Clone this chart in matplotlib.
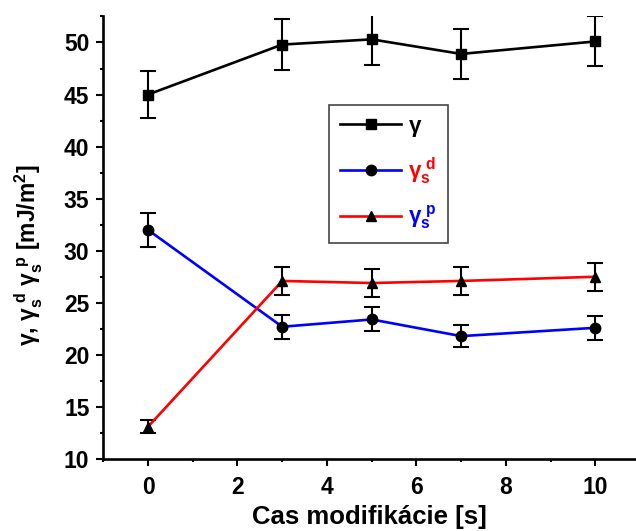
import matplotlib
matplotlib.use('Agg')
import matplotlib.pyplot as plt
from matplotlib.ticker import MultipleLocator

plt.rcParams['font.family'] = ['Liberation Sans', 'DejaVu Sans']
plt.rcParams['font.weight'] = 'bold'
plt.rcParams['mathtext.fontset'] = 'custom'
plt.rcParams['mathtext.rm'] = 'Liberation Sans:bold'
plt.rcParams['mathtext.it'] = 'Liberation Sans:bold'
plt.rcParams['mathtext.bf'] = 'Liberation Sans:bold'

# cas modifikacie [s]
cas = [0, 3, 5, 7, 10]

# povrchova energia a jej zlozky [mJ/m2]
gama = [45.0, 49.8, 50.3, 48.9, 50.1]
gama_err = [2.25, 2.45, 2.5, 2.4, 2.4]
gama_d = [32.0, 22.7, 23.4, 21.8, 22.6]
gama_d_err = [1.6, 1.15, 1.15, 1.05, 1.15]
gama_p = [13.1, 27.1, 26.9, 27.1, 27.5]
gama_p_err = [0.65, 1.35, 1.3, 1.35, 1.35]

fig = plt.figure(figsize=(6.36, 5.31), dpi=100)
ax = fig.add_axes([0.1624, 0.1356, 0.837, 0.8344])

lw = 1.9
spolocne = dict(capsize=6, elinewidth=1.5, capthick=1.5, ecolor='k',
                lw=lw, markersize=7.5, mfc='k', mec='k')
c1 = ax.errorbar(cas, gama, yerr=gama_err, color='k', marker='s', **spolocne)
c2 = ax.errorbar(cas, gama_d, yerr=gama_d_err, color='#0000ff', marker='o',
                 **spolocne)
c3 = ax.errorbar(cas, gama_p, yerr=gama_p_err, color='#ff0000', marker='^',
                 **spolocne)

ax.set_xlim(-1, 10.9)
ax.set_ylim(10, 52.55)
ax.xaxis.set_major_locator(MultipleLocator(2))
ax.xaxis.set_minor_locator(MultipleLocator(1))
ax.yaxis.set_major_locator(MultipleLocator(5))
ax.yaxis.set_minor_locator(MultipleLocator(2.5))

for s in ['top', 'right']:
    ax.spines[s].set_visible(False)
for s in ['left', 'bottom']:
    ax.spines[s].set_linewidth(1.9)

ax.tick_params(which='major', direction='out', length=5, width=1.5,
               labelsize=16.5)
ax.tick_params(axis='x', which='major', pad=7)
ax.tick_params(axis='y', which='major', pad=5)
ax.tick_params(which='minor', direction='out', length=2.5, width=1.5)
for lab in ax.get_xticklabels() + ax.get_yticklabels():
    lab.set_fontweight('bold')

ax.set_xlabel('Cas modifikácie [s]', fontsize=18.5, fontweight='bold')
ax.set_ylabel(r'$\gamma$, $\gamma_s^{\ d}$ $\gamma_s^{\ p}$ [mJ/m$^2$]',
              fontsize=16.5, fontweight='bold')
ax.yaxis.set_label_coords(-0.11, 0.46)
ax.xaxis.set_label_coords(0.5, -0.103)

leg = ax.legend([c1[0], c2[0], c3[0]],
                [r'$\gamma$', r'$\gamma_s^{\ d}$', r'$\gamma_s^{\ p}$'],
                loc='upper left', bbox_to_anchor=(0.424, 0.799),
                borderaxespad=0, fontsize=16, handlelength=2.75,
                handletextpad=0.3, labelspacing=0.75, borderpad=0.5,
                fancybox=False, framealpha=1, edgecolor='#444444')
leg.get_frame().set_linewidth(1.2)
farby = ['k', '#ff0000', '#0000ff']
for t, c in zip(leg.get_texts(), farby):
    t.set_color(c)

fig.savefig('out.png', dpi=100)
